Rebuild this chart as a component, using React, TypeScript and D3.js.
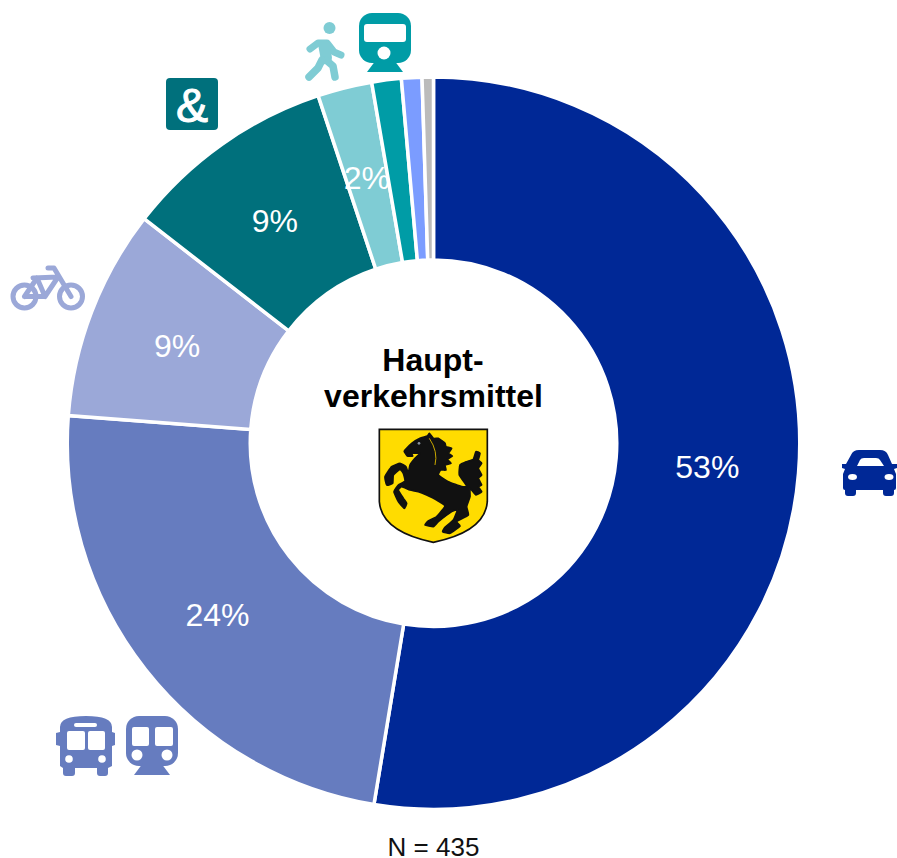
import React from 'react'
import * as d3 from 'd3'

const modes = ['Auto', 'OEPNV', 'Rad', 'Mitfahrer', 'Fuss', 'Fernverkehr', 'Sonstige', 'KA']
const shares = [52.6, 23.6, 9.3, 9.4, 2.4, 1.3, 0.9, 0.5]
const labels = ['53%', '24%', '9%', '9%', '2%', '', '', '']
const colors = ['#002896', '#667cbf', '#9ba8d8', '#00707c', '#7fccd4', '#009ca6', '#7b9cff', '#bbbbbb']

const width = 897
const height = 858
const cx = 433.5
const cy = 443.2
const outerRadius = 366.25
const innerRadius = 183.25
const font = '"Liberation Sans", Arial, sans-serif'

const horse: [number, number][] = [
  [105, 90], [125, 70], [150, 55], [172, 48], [178, 40], [190, 55], [205, 55], [215, 62], [225, 70], [228, 80],
  [245, 85], [235, 100], [247, 108], [232, 118], [243, 130], [225, 135], [228, 150], [212, 150], [205, 165],
  [235, 185], [275, 200], [290, 198], [268, 165], [270, 135], [290, 125], [310, 118], [318, 95], [330, 100],
  [325, 120], [335, 130], [325, 145], [335, 165], [325, 175], [335, 195], [325, 200], [335, 215], [318, 225],
  [300, 205], [300, 230], [290, 260], [295, 285], [260, 305], [270, 318], [240, 340], [218, 335], [225, 322],
  [250, 300], [262, 270], [245, 275], [205, 305], [190, 320], [165, 315], [175, 303], [200, 290], [225, 258],
  [200, 240], [170, 225], [145, 215], [120, 210], [95, 200], [85, 210], [100, 235], [110, 250], [103, 265],
  [85, 245], [72, 215], [85, 195], [105, 183], [100, 160], [90, 148], [70, 165], [68, 190], [50, 195], [45, 170],
  [65, 140], [90, 130], [108, 140], [115, 160], [120, 135], [135, 115], [150, 100], [125, 100], [128, 108],
  [112, 108], [103, 95],
]
const horsePath = d3.line().curve(d3.curveCardinalClosed.tension(0.6))(horse) as string

const CarIcon = ({ fill }: { fill: string }) => (
  <g fill={fill}>
    <path d="M846 464L842 464L842 468L845 469L843 474L843 488Q843 490 845 490L845 493Q845 496 848 496L853 496Q856 496 856 493L856 490L883 490L883 493Q883 496 886 496L891 496Q894 496 894 493L894 490Q896 490 896 488L896 474L894 469L897 468L897 464L892 464L888 455Q886 450 880 450L859 450Q853 450 851 455Z" />
    <path d="M857 466L860 460Q861 458 864 458L876 458Q879 458 880 460L884 466Z" fill="#fff" />
    <ellipse cx={852.5} cy={477} rx={4.5} ry={3} fill="#fff" />
    <ellipse cx={889} cy={477} rx={4.5} ry={3} fill="#fff" />
  </g>
)

const BusIcon = ({ fill }: { fill: string }) => (
  <g fill={fill}>
    <path d="M60 732L60 727Q60 716 86 716Q112 716 112 727L112 732L115 733L115 745L112 746L112 766L108 768L108 773Q108 776 105 776L100 776Q97 776 97 773L97 768L75 768L75 773Q75 776 72 776L66 776Q63 776 63 773L63 768L60 766L60 746L56 745L56 733Z" />
    <rect x={74} y={723} width={23} height={4} rx={2} fill="#fff" />
    <rect x={67} y={731} width={18} height={19} rx={2} fill="#fff" />
    <rect x={88} y={731} width={17} height={19} rx={2} fill="#fff" />
    <circle cx={69} cy={759} r={3.8} fill="#fff" />
    <circle cx={102} cy={759} r={3.8} fill="#fff" />
  </g>
)

const TrainIcon = ({ x, y, fill, double }: { x: number; y: number; fill: string; double: boolean }) => (
  <g fill={fill} transform={`translate(${x},${y})`}>
    <rect x={0} y={0} width={52} height={50} rx={13} />
    <path d="M17 47L35 47L44 59L8 59Z" />
    {double ? (
      <>
        <rect x={6} y={11} width={17} height={19} rx={2} fill="#fff" />
        <rect x={29} y={11} width={18} height={19} rx={2} fill="#fff" />
        <circle cx={11} cy={39} r={5.5} fill="#fff" />
        <circle cx={41} cy={39} r={5.5} fill="#fff" />
      </>
    ) : (
      <>
        <rect x={5} y={11} width={42} height={18} rx={3} fill="#fff" />
        <circle cx={25} cy={40} r={6.5} fill="#fff" />
      </>
    )}
  </g>
)

const BikeIcon = ({ stroke }: { stroke: string }) => (
  <g fill="none" stroke={stroke} strokeWidth={5} strokeLinecap="round" strokeLinejoin="round">
    <circle cx={24.5} cy={296.5} r={11.5} />
    <circle cx={71} cy={296.5} r={11.5} />
    <path d="M24.5 296.5L37 278L45 296.5L24.5 296.5M33 278L58 277L45 296.5M48 268L54 268L71 296.5" />
  </g>
)

const WalkerIcon = ({ fill }: { fill: string }) => (
  <g fill="none" stroke={fill} strokeLinecap="round" strokeLinejoin="round">
    <circle cx={329.5} cy={28} r={6} fill={fill} stroke="none" />
    <path d="M310 49L318 43L327 43L334 52L341 55" strokeWidth={7} />
    <path d="M322 44L326 44L328 58L325 60Z" fill={fill} strokeWidth={8} />
    <path d="M326 60L333 66L335 77" strokeWidth={7.5} />
    <path d="M322 60L318 68L309 77" strokeWidth={7.5} />
  </g>
)

const Arms = () => (
  <g transform="translate(370,420) scale(0.3333)">
    <path d="M28 28L352 28L352 245Q345 335 190 367Q35 335 28 245Z" fill="#ffdc00" stroke="#111" strokeWidth={5} />
    <path d={horsePath} fill="#111" stroke="#111" strokeWidth={5} strokeLinejoin="round" />
    <path d="M178 55Q205 95 195 135" fill="none" stroke="#c9a800" strokeWidth={3} />
    <circle cx={147} cy={70} r={4} fill="#8a93a0" />
  </g>
)

export default function App() {
  const slices = d3.pie<number>().sort(null).value(d => d)(shares)
  const arc = d3.arc<d3.PieArcDatum<number>>().innerRadius(innerRadius).outerRadius(outerRadius)

  return (
    <svg width={width} height={height} style={{ position: 'absolute', left: 0, top: 0 }} fontFamily={font}>
      <g transform={`translate(${cx},${cy})`}>
        {slices.map((s, i) => (
          <path key={modes[i]} d={arc(s) as string} fill={colors[i]} stroke="#fff" strokeWidth={3.5} />
        ))}
        {slices.map((s, i) => {
          const [x, y] = arc.centroid(s)
          return (
            <text key={modes[i]} x={x} y={y} dy="0.4em" textAnchor="middle" fontSize={32} fill="#fff">
              {labels[i]}
            </text>
          )
        })}
      </g>

      <text x={433} y={371} textAnchor="middle" fontSize={32} fontWeight="bold">Haupt-</text>
      <text x={433.5} y={407} textAnchor="middle" fontSize={32} fontWeight="bold">verkehrsmittel</text>
      <Arms />

      <CarIcon fill={colors[0]} />
      <BusIcon fill={colors[1]} />
      <TrainIcon x={126} y={716} fill={colors[1]} double />
      <BikeIcon stroke={colors[2]} />
      <rect x={166} y={78} width={52} height={52} rx={4} fill={colors[3]} />
      <text x={192} y={122} textAnchor="middle" fontSize={48} stroke="#fff" strokeWidth={1} fill="#fff">&amp;</text>
      <WalkerIcon fill={colors[4]} />
      <TrainIcon x={359} y={13} fill={colors[5]} double={false} />

      {/* baseline; these glyphs have no descenders, so nothing is clipped */}
      <text x={433.5} y={855.5} textAnchor="middle" fontSize={26} fill="#111">N = 435</text>
    </svg>
  )
}
